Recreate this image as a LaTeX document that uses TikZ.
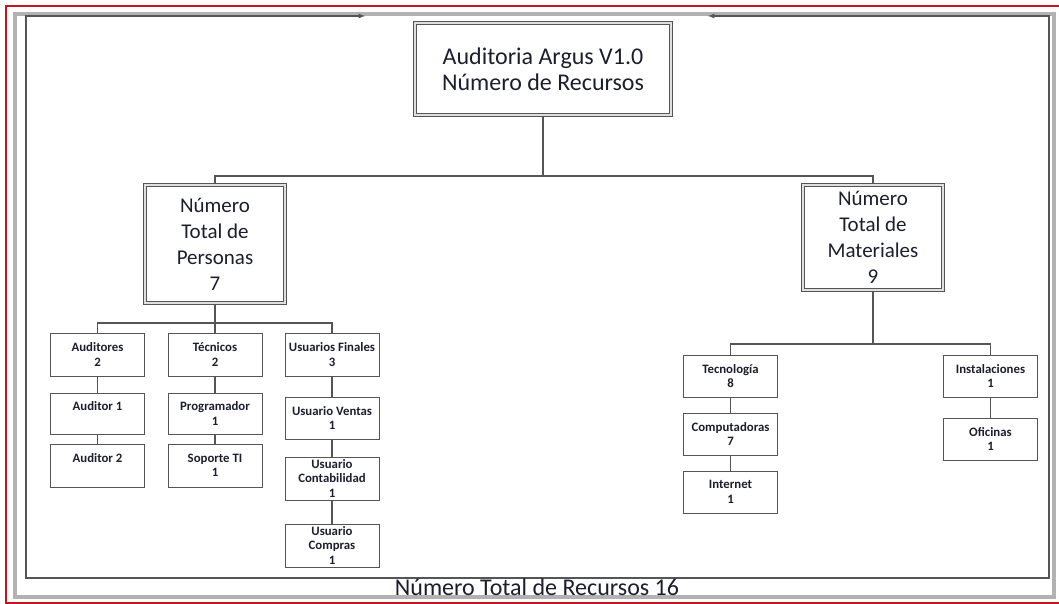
\documentclass[tikz,border=0pt]{standalone}
\usepackage{fontspec}
\setmainfont{Carlito}
\usepackage{tikz}
\definecolor{framered}{RGB}{196,22,28}
\definecolor{linegray}{RGB}{85,85,85}
\definecolor{textcol}{RGB}{28,30,45}

\begin{document}
\begin{tikzpicture}[x=1pt,y=-1pt,
  bigbox/.style={draw=linegray,double=gray!25,double distance=1.4pt,line width=1.1pt,align=center,inner sep=0pt,text=textcol,font=\fontsize{21}{26}\selectfont,minimum width=140pt},
  smallbox/.style={draw=linegray,line width=0.9pt,align=center,inner sep=0pt,text=textcol,font=\bfseries\fontsize{12.8}{14.5}\selectfont,minimum width=94pt,minimum height=42pt},
  conn/.style={draw=linegray,line width=1.2pt}]
\useasboundingbox (0,0) rectangle (1059,604);
% frame
\draw[framered, line width=1.5pt] (6,6) rectangle (1066,603);
\draw[gray!60, line width=4pt] (15,14) rectangle (1054,597);
\draw[linegray, line width=1.2pt, latex-latex] (365,16) -- (26,16) -- (26,578) -- (1049,578) -- (1049,16) -- (708,16);
% top
\node[bigbox, minimum width=256pt, minimum height=92pt, font=\fontsize{24}{26}\selectfont] (titulo) at (543,69) {Auditoria Argus V1.0\\Número de Recursos};
\node[bigbox, minimum height=118pt] (personas) at (215,244) {Número\\Total de\\Personas\\7};
\node[bigbox, minimum height=105pt] (materiales) at (873,237.5) {Número\\Total de\\Materiales\\9};
% personas
\node[smallbox, minimum height=43pt] (auditores) at (97.5,354.5) {Auditores\\2};
\node[smallbox, minimum height=41pt] (auditor1) at (97.5,413.5) {Auditor 1\\\phantom{1}};
\node[smallbox, minimum height=43pt] (auditor2) at (97.5,465.5) {Auditor 2\\\phantom{1}};
\node[smallbox, minimum height=43pt] (tecnicos) at (215,354.5) {Técnicos\\2};
\node[smallbox, minimum height=41pt] (programador) at (215,413.5) {Programador\\1};
\node[smallbox, minimum height=43pt] (soporte) at (215,465.5) {Soporte TI\\1};
\node[smallbox, minimum height=43pt] (finales) at (332,354.5) {Usuarios Finales\\3};
\node[smallbox] (ventas) at (332,418) {Usuario Ventas\\1};
\node[smallbox, minimum height=43pt] (contabilidad) at (332,478.5) {Usuario\\Contabilidad\\1};
\node[smallbox, minimum height=43pt] (compras) at (332,545.5) {Usuario\\Compras\\1};
% materiales
\node[smallbox] (tecnologia) at (730.5,376) {Tecnología\\8};
\node[smallbox] (computadoras) at (730.5,434) {Computadoras\\7};
\node[smallbox] (internet) at (730.5,492) {Internet\\1};
\node[smallbox] (instalaciones) at (990.5,376) {Instalaciones\\1};
\node[smallbox] (oficinas) at (990.5,439) {Oficinas\\1};
% connectors
\coordinate (topbus) at (543,176);
\coordinate (pbus) at (215,323);
\coordinate (mbus) at (873,344);
\draw[conn] (titulo) -- (topbus);
\draw[conn] (personas.north) |- (topbus) -| (materiales.north);
\draw[conn] (personas.south) -- (tecnicos.north);
\draw[conn] (auditores.north) |- (pbus) -| (finales.north);
\draw[conn] (auditores) -- (auditor1) -- (auditor2);
\draw[conn] (tecnicos) -- (programador) -- (soporte);
\draw[conn] (finales) -- (ventas) -- (contabilidad) -- (compras);
\draw[conn] (materiales.south) -- (mbus);
\draw[conn] (tecnologia.north) |- (mbus) -| (instalaciones.north);
\draw[conn] (tecnologia) -- (computadoras) -- (internet);
\draw[conn] (instalaciones) -- (oficinas);
% total
\node[anchor=base, text=textcol, font=\fontsize{24}{28}\selectfont] (total) at (537,595) {Número Total de Recursos 16};
\end{tikzpicture}
\end{document}
